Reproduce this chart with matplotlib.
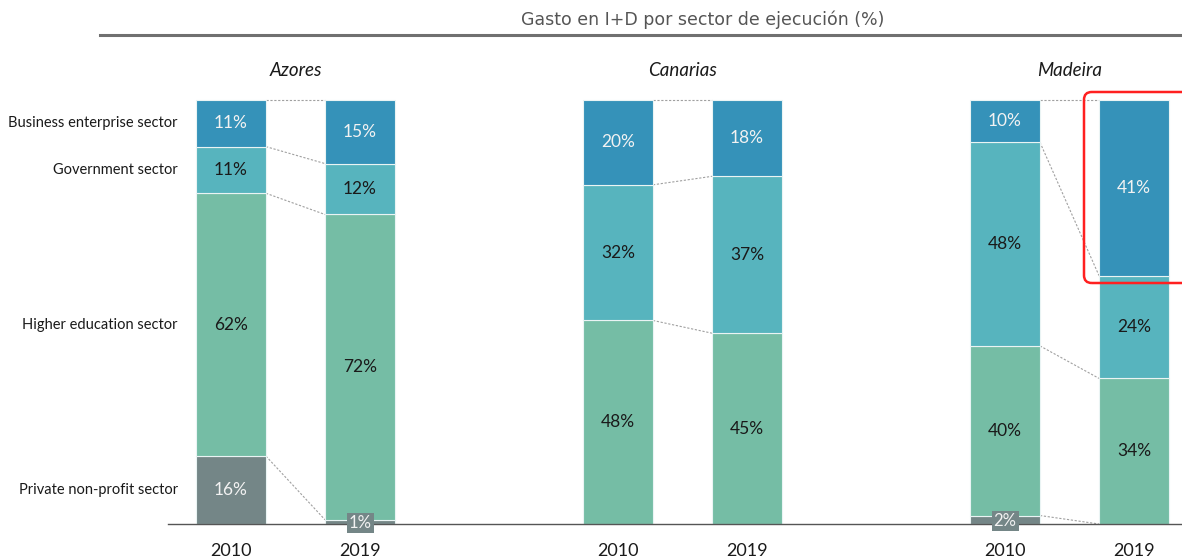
import matplotlib
matplotlib.use("Agg")
import matplotlib.pyplot as plt
from matplotlib.patches import FancyBboxPatch
import numpy as np

# ---- data ----
regions = ["Azores", "Canarias", "Madeira"]
years = ["2010", "2019"]
sectors = ["Private non-profit sector", "Higher education sector",
           "Government sector", "Business enterprise sector"]
# values per region/year, ordered bottom->top as in `sectors`
azores_2010 = [16, 62, 11, 11]
azores_2019 = [1, 72, 12, 15]
canarias_2010 = [0, 48, 32, 20]
canarias_2019 = [0, 45, 37, 18]
madeira_2010 = [2, 40, 48, 10]
madeira_2019 = [0, 34, 24, 41]
data = [[azores_2010, azores_2019],
        [canarias_2010, canarias_2019],
        [madeira_2010, madeira_2019]]

colors = ["#748687", "#75BDA5", "#57B4BE", "#3592B9"]
label_colors = ["#f2f2f2", "#1a1a1a", "#1a1a1a", "#f2f2f2"]

# ---- layout ----
W, H = 1182, 560
fig = plt.figure(figsize=(W / 100, H / 100), dpi=100)
ax = fig.add_axes([0, 0, 1, 1])
ppu = 129.0  # pixels per x unit
x0px = 231.0
ax.set_xlim(-x0px / ppu, (W - x0px) / ppu)
ypp = 4.24  # pixels per percent
ax.set_ylim(-(H - 524) / ypp, 100 + 100 / ypp)
ax.axis("off")

group_step = 3.0
pair_step = 1.0
bw = 70 / ppu


def px2x(px):
    return (px - x0px) / ppu


def py2y(py):
    return (524 - py) / ypp


label_font = "Lato"

for g, reg in enumerate(regions):
    for yi, vals in enumerate(data[g]):
        xc = g * group_step + yi * pair_step
        vals = np.array(vals, dtype=float)
        vals_n = vals / vals.sum() * 100
        bottom = 0.0
        bounds = []
        for s, (v, vn) in enumerate(zip(vals, vals_n)):
            if v > 0:
                ax.bar(xc, vn, bottom=bottom, width=bw, color=colors[s],
                       edgecolor="#eaf4f4", linewidth=0.8, zorder=2)
                lbl = f"{int(v)}%"
                if vn < 4:
                    ax.text(xc, bottom + vn / 2 - 0.3, lbl, ha="center", va="center",
                            fontsize=12, color="#f2f2f2", family=label_font, zorder=4,
                            bbox=dict(boxstyle="square,pad=0.12", fc=colors[s],
                                      ec="none"))
                else:
                    ax.text(xc, bottom + vn / 2, lbl, ha="center", va="center",
                            fontsize=12.5, color=label_colors[s], family=label_font,
                            zorder=4)
            bottom += vn
            bounds.append(bottom)
        # connectors
        if yi == 0:
            prev_bounds = bounds
            prev_vals = vals
        else:
            xa = (g * group_step) + bw / 2
            xb = (g * group_step + pair_step) - bw / 2
            for s in range(len(sectors)):
                if prev_vals[s] == 0 and vals[s] == 0:
                    continue
                ax.plot([xa, xb], [prev_bounds[s], bounds[s]], color="#a0a0a0",
                        lw=0.8, ls=(0, (2, 1.5)), zorder=1)
        ax.text(xc, py2y(551), years[yi], ha="center", va="center",
                fontsize=13, color="#1a1a1a", family=label_font)
    ax.text(g * group_step + pair_step / 2, py2y(70), reg, ha="center",
            va="center", fontsize=13.5, style="italic", color="#1a1a1a",
            family=label_font)

# sector labels aligned with Azores 2010 segments
az = np.array(azores_2010, dtype=float)
cum = np.cumsum(az)
mids = cum - az / 2
for s, name in enumerate(sectors):
    ax.text(px2x(178), mids[s], name, ha="right", va="center", fontsize=10.5,
            color="#1a1a1a", family=label_font)

# baseline
ax.plot([px2x(168), px2x(W)], [0, 0], color="#555555", lw=1.0, zorder=3)

# title & rule
ax.text(px2x(703), py2y(20), "Gasto en I+D por sector de ejecución (%)",
        ha="center", va="center", fontsize=12.5, color="#555555", family="DejaVu Sans")
ax.plot([px2x(100), px2x(W)], [py2y(35), py2y(35)], color="#707070", lw=2.2)

# red highlight box
box = FancyBboxPatch((px2x(1084), py2y(283)), px2x(1200) - px2x(1084),
                     py2y(92) - py2y(283),
                     boxstyle="round,pad=0,rounding_size=0.06",
                     fc="none", ec="#ff2020", lw=1.8, zorder=5,
                     mutation_aspect=ppu / ypp)
ax.add_patch(box)

fig.savefig("out.png", dpi=100)
